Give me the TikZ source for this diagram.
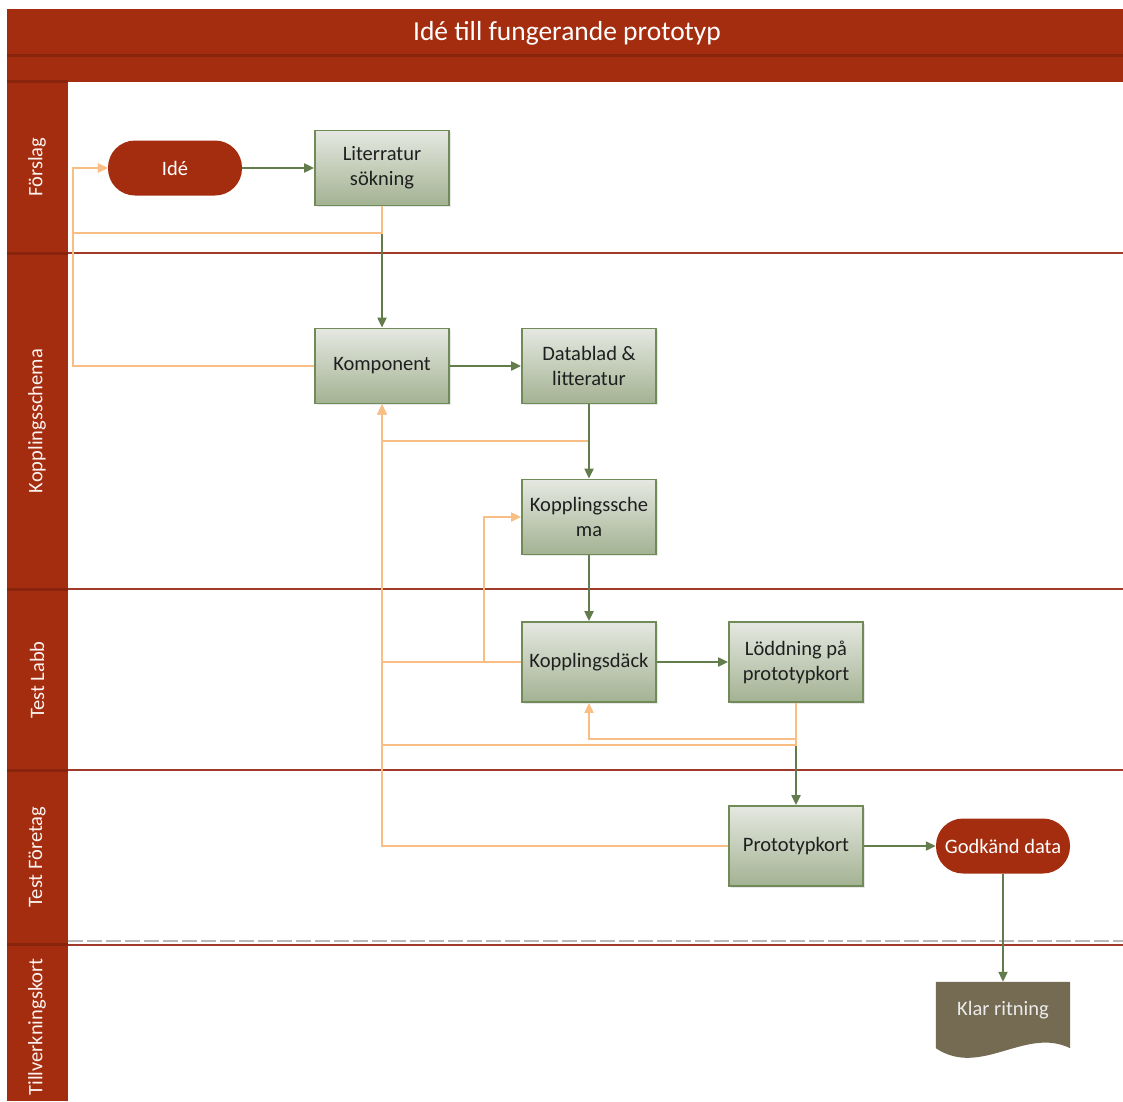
\documentclass[tikz,border=0pt]{standalone}
\usepackage{fontspec}
\setmainfont{Carlito}
\usetikzlibrary{arrows.meta,calc,shadows,backgrounds}

\definecolor{lanered}{RGB}{165,45,15}
\definecolor{lanedark}{RGB}{136,35,12}
\definecolor{sepred}{RGB}{160,58,42}
\definecolor{boxedge}{RGB}{112,138,88}
\definecolor{boxtop}{RGB}{229,232,225}
\definecolor{boxbottom}{RGB}{163,178,146}
\definecolor{flowgreen}{RGB}{98,124,76}
\definecolor{backorange}{RGB}{248,190,132}
\definecolor{docbrown}{RGB}{116,107,82}
\definecolor{dashgray}{RGB}{185,185,185}

\begin{document}
\begin{tikzpicture}[x=1pt,y=-1pt,
  stepbox/.style={rectangle, draw=boxedge, line width=1.8pt,
    top color=boxtop, bottom color=boxbottom,
    minimum width=134pt, minimum height=75pt, align=center,
    text=black!88, font=\fontsize{20.5}{25}\selectfont,
    drop shadow={opacity=0.18, shadow xshift=1.5pt, shadow yshift=-1.5pt}},
  tallbox/.style={stepbox, minimum height=80pt},
  pill/.style={rectangle, rounded corners=27pt, fill=lanered, text=white,
    minimum width=134pt, minimum height=55pt,
    font=\fontsize{20.5}{25}\selectfont},
  docnode/.style={rectangle, minimum width=134pt, minimum height=56pt,
    text=white!92!black, font=\fontsize{20.5}{25}\selectfont},
  lanelabel/.style={rotate=90, text=white!94!lanered,
    font=\fontsize{20.5}{24}\selectfont},
  titletext/.style={text=white, font=\fontsize{27.5}{32}\selectfont},
  flow/.style={draw=flowgreen, line width=2pt, -{Triangle[length=10pt,width=9pt]}},
  back/.style={draw=backorange, line width=2pt, -{Triangle[length=10pt,width=9pt]}},
  lanesep/.style={draw=sepred, line width=2.8pt},
  hdrline/.style={draw=lanedark, line width=3pt}
]
\useasboundingbox (0,0) rectangle (1123,1101);

% swimlane frame
\fill[lanered] (7,9) rectangle (1123,82);
\fill[lanered] (7,82) rectangle (68,1101);
\draw[hdrline] (7,55) -- (1123,55);
\draw[hdrline] (7,81) -- (68,81);

\draw[hdrline] (7,253) -- (68,253);
\draw[hdrline] (7,589) -- (68,589);
\draw[hdrline] (7,770) -- (68,770);
\draw[hdrline] (7,944) -- (68,944);
\draw[lanesep] (68,253) -- (1123,253);
\draw[lanesep] (68,589) -- (1123,589);
\draw[lanesep] (68,770) -- (1123,770);
\draw[draw=dashgray, line width=2.5pt, dash pattern=on 15pt off 4pt] (68,941) -- (1123,941);
\draw[lanesep] (68,945) -- (1123,945);

\node[titletext] (title) at (567,33) {Idé till fungerande prototyp};

\node[lanelabel] (lForslag) at (37,167) {Förslag};
\node[lanelabel] (lSchema) at (37,421) {Kopplingsschema};
\node[lanelabel] (lLabb) at (37,680) {Test Labb};
\node[lanelabel] (lForetag) at (37,857) {Test Företag};
\node[lanelabel] (lKort) at (37,1027) {Tillverkningskort};

% steps
\node[pill] (ide) at (175,168) {Idé};
\node[stepbox] (lit) at (382,168) {Literratur\\sökning};
\node[stepbox] (komp) at (382,366) {Komponent};
\node[stepbox] (data) at (589,366) {Datablad \&\\litteratur};
\node[stepbox] (schema) at (589,517) {Kopplingssche\\ma};
\node[tallbox] (deck) at (589,662) {Kopplingsdäck};
\node[tallbox] (lodd) at (796,662) {Löddning på\\prototypkort};
\node[tallbox] (proto) at (796,846) {Prototypkort};
\node[pill] (godk) at (1003,846) {Godkänd data};
\node[docnode] (klar) at (1003,1010) {Klar ritning};
\begin{pgfonlayer}{background}
\fill[docbrown] (klar.north west) -- (klar.north east)
  -- ($(klar.south east)+(0,10)$) .. controls +(-45,-22) and +(45,30) .. ($(klar.south west)+(0,10)$) -- cycle;
\end{pgfonlayer}

\coordinate (ret) at (73,233);

% forward flow
\draw[flow] (ide) -- (lit);
\draw[flow] (lit.south) -- (komp.north);
\draw[flow] (komp) -- (data);
\draw[flow] (schema.south) -- (deck.north);
\draw[flow] (deck) -- (lodd);
\draw[flow] (lodd.south) -- (proto.north);
\draw[flow] (proto) -- (godk);
\draw[flow] (godk.south) -- (klar.north);

% feedback
\draw[back] (lit.south) |- (ret) |- (ide.west);
\draw[back] (komp.west) -| (ret) |- (ide.west);
\draw[back] (data.south) -- ++(0,37) -| (komp.south);
\draw[back] (deck.west) -- ++(-37,0) |- (schema.west);
\draw[back] (deck.west) -| (komp.south);
\draw[back] (lodd.south) -- ++(0,36) -| (deck.south);
\draw[back] (lodd.south) -- ++(0,42) -| (komp.south);
\draw[back] (proto.west) -| (komp.south);

\draw[flow] (data.south) -- (schema.north);

\end{tikzpicture}
\end{document}
